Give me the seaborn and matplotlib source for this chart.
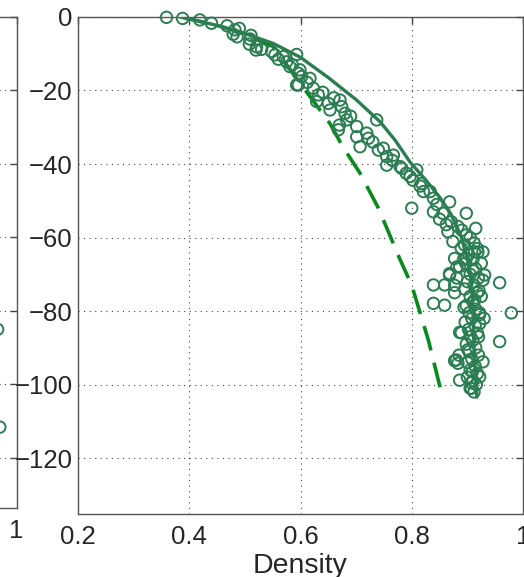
import matplotlib
matplotlib.use("Agg")
import matplotlib.pyplot as plt
import seaborn as sns
import pandas as pd

# ---------------- data ----------------
obs_density = [
    0.359, 0.388, 0.419, 0.440, 0.468, 0.482, 0.490, 0.479, 0.486, 0.509,
    0.508, 0.521, 0.520, 0.548, 0.554, 0.569, 0.575, 0.593, 0.581, 0.599,
    0.602, 0.596, 0.596, 0.593, 0.617, 0.623, 0.632, 0.629, 0.650, 0.653,
    0.671, 0.674, 0.680, 0.683, 0.670, 0.668, 0.701, 0.701, 0.719, 0.722,
    0.707, 0.737, 0.740, 0.749, 0.755, 0.767, 0.779, 0.755, 0.809, 0.797,
    0.782, 0.802, 0.818, 0.821, 0.833, 0.839, 0.800, 0.839, 0.868, 0.856,
    0.898, 0.871, 0.865, 0.883, 0.898, 0.874, 0.889, 0.913, 0.928, 0.877,
    0.898, 0.868, 0.886, 0.910, 0.931, 0.958, 0.839, 0.859, 0.868, 0.839,
    0.859, 0.928, 0.979, 0.958, 0.889, 0.880, 0.883, 0.928, 0.886, 0.922,
    0.907, 0.877, 0.886, 0.922, 0.922, 0.881, 0.881, 0.877, 0.877, 0.919,
    0.905, 0.912, 0.895, 0.918, 0.902, 0.910, 0.897, 0.915, 0.905, 0.920,
    0.900, 0.912, 0.895, 0.918, 0.905, 0.910, 0.898, 0.915, 0.903, 0.922,
    0.908, 0.896, 0.914, 0.902, 0.918, 0.906, 0.910, 0.898, 0.915, 0.903,
    0.920, 0.908, 0.900, 0.914, 0.905, 0.918, 0.900, 0.910, 0.916, 0.905,
    0.912, 0.925, 0.920, 0.930, 0.893, 0.915, 0.901, 0.909, 0.894, 0.921,
    0.511, 0.530, 0.560, 0.585, 0.612, 0.640, 0.660, 0.690, 0.730, 0.765,
    0.790, 0.815, 0.845, 0.850, 0.862, 0.890, 0.925, 0.885, 0.907, 0.913,
]
obs_depth = [
    -0.1, -0.4, -0.8, -1.7, -2.4, -3.5, -3.1, -4.7, -5.4, -6.0,
    -7.4, -8.1, -9.0, -9.4, -10.3, -10.8, -12.2, -10.2, -13.5, -14.4,
    -16.2, -18.5, -15.3, -18.5, -16.7, -19.4, -21.2, -23.0, -23.5, -25.3,
    -22.6, -24.4, -26.2, -28.0, -29.4, -30.7, -29.8, -32.6, -31.6, -33.0,
    -35.3, -28.0, -36.2, -35.7, -38.0, -37.6, -40.7, -40.3, -41.6, -43.4,
    -41.2, -44.4, -45.3, -47.5, -47.5, -49.3, -52.0, -53.0, -50.3, -53.4,
    -53.4, -55.7, -58.4, -57.0, -59.3, -61.1, -62.9, -63.9, -63.9, -65.7,
    -65.7, -69.8, -67.9, -68.8, -70.2, -72.3, -72.9, -72.9, -70.2, -77.9,
    -78.4, -71.6, -80.5, -88.3, -85.9, -93.3, -94.2, -93.8, -98.8, -97.9,
    -101.0, -93.5, -85.8, -83.4, -80.5, -68.0, -71.0, -73.0, -75.0, -64.0,
    -60.0, -61.5, -62.0, -63.0, -64.5, -66.0, -67.0, -68.5, -70.0, -71.0,
    -72.0, -73.0, -74.0, -75.0, -76.0, -77.5, -78.5, -79.5, -80.5, -81.0,
    -82.0, -83.0, -84.0, -85.0, -86.0, -87.0, -88.0, -89.0, -90.0, -91.0,
    -92.0, -93.0, -94.0, -95.0, -96.0, -97.0, -98.0, -99.0, -100.0, -101.0,
    -102.0, -76.0, -87.0, -82.0, -66.0, -57.5, -90.5, -96.5, -79.0, -74.5,
    -5.0, -8.8, -11.5, -13.0, -17.8, -20.5, -22.0, -27.0, -34.0, -39.0,
    -42.5, -46.0, -51.0, -55.0, -56.5, -58.0, -67.0, -92.0, -99.5, -77.0,
]

model_density = [0.385, 0.450, 0.500, 0.551, 0.600, 0.650, 0.700, 0.743,
                 0.770, 0.797, 0.826, 0.850, 0.870, 0.889, 0.900, 0.907,
                 0.910, 0.912, 0.917]
model_depth = [0.0, -2.3, -4.5, -7.2, -11.0, -16.5, -22.5, -28.5,
               -33.5, -39.5, -44.5, -49.0, -53.5, -59.8, -66.0, -71.6,
               -80.0, -90.0, -103.4]

alt_density = [0.385, 0.450, 0.500, 0.550, 0.581, 0.604, 0.635, 0.653, 0.676,
               0.707, 0.740, 0.779, 0.800, 0.830, 0.853]
alt_depth = [0.0, -2.3, -4.5, -8.0, -14.2, -19.0, -25.3, -29.0, -35.3,
             -42.5, -52.0, -66.0, -73.0, -88.0, -102.0]

# partially visible neighbouring panel
left_density = [0.966, 0.970]
left_depth = [-85.0, -111.6]

x_ticks = [0.2, 0.4, 0.6, 0.8, 1.0]
x_tick_labels = ["0.2", "0.4", "0.6", "0.8", "1"]
y_ticks = [0, -20, -40, -60, -80, -100, -120]
y_tick_labels = ["0", "\u221220", "\u221240", "\u221260", "\u221280", "\u2212100", "\u2212120"]

# ---------------- style ----------------
sns.set_style("white")
plt.rcParams["font.family"] = ["Liberation Sans", "DejaVu Sans"]

obs_color = "#2b7d52"
alt_color = "#0a8a1e"
grid_kw = dict(color="#444444", linestyle=(0, (1, 4)), linewidth=0.8)

fig = plt.figure(figsize=(5.24, 5.77), dpi=100)

def style_axes(ax):
    for s in ax.spines.values():
        s.set_visible(True)
        s.set_color("#555555")
        s.set_linewidth(1.0)
    ax.tick_params(direction="in", length=5, width=1.0, color="#444444",
                   top=True, right=True, labelsize=18.5)
    ax.tick_params(axis="x", pad=8)
    ax.tick_params(axis="y", pad=4)
    ax.grid(True, **grid_kw)

# left (cut-off) panel
axl = fig.add_axes([-0.8177, 0.1196, 0.8492, 0.851])
sns.scatterplot(x=left_density, y=left_depth, ax=axl, marker="o", s=68,
                facecolor="none", edgecolor=obs_color, linewidth=1.4, legend=False)
axl.set_xlim(0.2, 1.0)
axl.set_ylim(-133.6, 0)
axl.set_xticks(x_ticks)
axl.set_xticklabels(["", "", "", "", "1"])
axl.set_yticks(y_ticks)
axl.set_yticklabels([])
style_axes(axl)
axl.set_xlabel("")
axl.set_ylabel("")

# main panel
ax = fig.add_axes([0.1489, 0.1092, 0.8492, 0.8614])
obs = pd.DataFrame({"Density": obs_density, "Depth": obs_depth})
mod = pd.DataFrame({"Density": model_density, "Depth": model_depth})
alt = pd.DataFrame({"Density": alt_density, "Depth": alt_depth})

sns.lineplot(data=alt, x="Density", y="Depth", sort=False, ax=ax,
             color=alt_color, linewidth=2.6, zorder=3)
ax.lines[-1].set_dashes([7, 3.5])
sns.lineplot(data=mod, x="Density", y="Depth", sort=False, ax=ax,
             color=obs_color, linewidth=2.4, zorder=3)
sns.scatterplot(data=obs, x="Density", y="Depth", ax=ax, marker="o", s=68,
                facecolor="none", edgecolor=obs_color, linewidth=1.4,
                legend=False, zorder=4, clip_on=False)

ax.set_xlim(0.2, 1.0)
ax.set_ylim(-135.2, 0)
ax.set_xticks(x_ticks)
ax.set_xticklabels(x_tick_labels)
ax.set_yticks(y_ticks)
ax.set_yticklabels(y_tick_labels)
style_axes(ax)
ax.set_xlabel("Density", fontsize=20.5, labelpad=3)
ax.set_ylabel("")

fig.savefig("out.png", dpi=100)
